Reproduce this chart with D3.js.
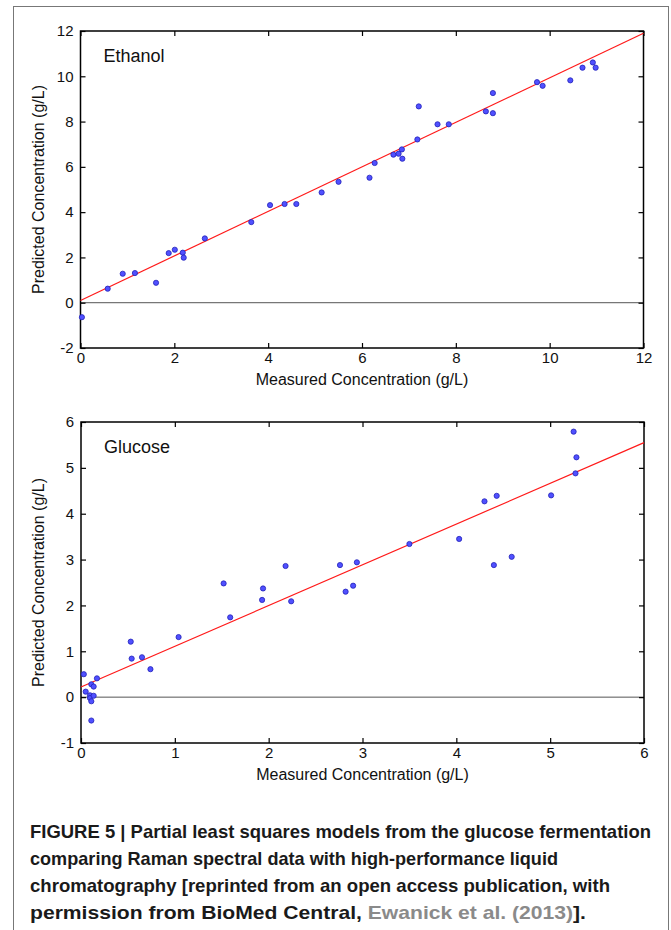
<!DOCTYPE html>
<html>
<head>
<meta charset="utf-8">
<script src="https://cdn.jsdelivr.net/npm/d3@7"></script>
<style>
  body { margin: 0; background: #fff; }
  svg { display: block; }
</style>
</head>
<body>
<svg id="fig" width="671" height="930"></svg>
<script>
// ethanol panel, measured vs predicted (g/L)
var ethanolMeasured = [0.03, 0.58, 0.90, 1.16, 1.61, 1.88, 2.01, 2.18, 2.20, 2.65,
  3.64, 4.04, 4.35, 4.60, 5.14, 5.50, 6.16, 6.27, 6.67, 6.78,
  6.85, 6.86, 7.18, 7.21, 7.61, 7.85, 8.64, 8.79, 8.79, 9.73,
  9.85, 10.44, 10.70, 10.92, 10.98];
var ethanolPredicted = [-0.64, 0.62, 1.28, 1.31, 0.88, 2.19, 2.34, 2.21, 1.99, 2.84,
  3.56, 4.31, 4.36, 4.36, 4.87, 5.34, 5.52, 6.17, 6.54, 6.58,
  6.77, 6.36, 7.21, 8.67, 7.88, 7.88, 8.45, 9.26, 8.37, 9.74,
  9.58, 9.82, 10.38, 10.61, 10.38];
var ethanolFit = [[0, 0.1], [12, 11.9]];
var ethanolXTicks = [0, 2, 4, 6, 8, 10, 12];
var ethanolYTicks = [-2, 0, 2, 4, 6, 8, 10, 12];

// glucose panel
var glucoseMeasured = [0.03, 0.05, 0.096, 0.096, 0.11, 0.11, 0.11, 0.135, 0.135, 0.17,
  0.53, 0.54, 0.65, 0.74, 1.04, 1.52, 1.59, 1.93, 1.94, 2.18,
  2.24, 2.76, 2.82, 2.90, 2.94, 3.50, 4.03, 4.30, 4.40, 4.43,
  4.59, 5.01, 5.25, 5.27, 5.28];
var glucosePredicted = [0.50, 0.12, 0.04, -0.02, 0.28, -0.09, -0.51, 0.23, 0.03, 0.41,
  1.21, 0.84, 0.87, 0.61, 1.31, 2.48, 1.74, 2.12, 2.37, 2.86,
  2.09, 2.88, 2.30, 2.43, 2.94, 3.34, 3.45, 4.27, 2.88, 4.39,
  3.06, 4.40, 5.79, 4.88, 5.23];
var glucoseFit = [[0, 0.22], [6, 5.55]];
var glucoseXTicks = [0, 1, 2, 3, 4, 5, 6];
var glucoseYTicks = [-1, 0, 1, 2, 3, 4, 5, 6];

var xLabel = "Measured Concentration (g/L)";
var yLabel = "Predicted Concentration (g/L)";

var captionLines = [
  [["FIGURE 5 | Partial least squares models from the glucose fermentation", "#1a1a1a"]],
  [["comparing Raman spectral data with high-performance liquid", "#1a1a1a"]],
  [["chromatography [reprinted from an open access publication, with", "#1a1a1a"]],
  [["permission from BioMed Central, ", "#1a1a1a"], ["Ewanick et al. (2013)", "#8a8a8a"], ["].", "#1a1a1a"]]
];
var captionWidths = [621, 528, 580, 556];

var svg = d3.select("#fig");
var tickFont = "'Liberation Sans', Arial, Helvetica, sans-serif";
var plainNum = function(d) { return String(d); }; // hyphen minus like the original

// page frame round the figure
svg.append("rect")
  .attr("x", 13.5).attr("y", 6.5)
  .attr("width", 655).attr("height", 1000)
  .attr("fill", "none")
  .attr("stroke", "#777")
  .attr("stroke-width", 1);

function drawPanel(box, name, xs, ys, fit, xTicks, yTicks) {
  var x = d3.scaleLinear()
    .domain([xTicks[0], xTicks[xTicks.length - 1]])
    .range([box.left, box.right]);
  var y = d3.scaleLinear()
    .domain([yTicks[0], yTicks[yTicks.length - 1]])
    .range([box.bottom, box.top]);

  var g = svg.append("g");

  // zero reference line
  g.append("line")
    .attr("x1", box.left).attr("x2", box.right)
    .attr("y1", y(0)).attr("y2", y(0))
    .attr("stroke", "#555")
    .attr("stroke-width", 1);

  // inward ticks on all four sides
  var bottom = g.append("g")
    .attr("transform", "translate(0," + box.bottom + ")")
    .call(d3.axisBottom(x).tickValues(xTicks).tickFormat(plainNum)
      .tickSizeInner(-5).tickSizeOuter(0).tickPadding(4));
  var left = g.append("g")
    .attr("transform", "translate(" + box.left + ",0)")
    .call(d3.axisLeft(y).tickValues(yTicks).tickFormat(plainNum)
      .tickSizeInner(-5).tickSizeOuter(0).tickPadding(7));
  var top = g.append("g")
    .attr("transform", "translate(0," + box.top + ")")
    .call(d3.axisTop(x).tickValues(xTicks).tickSizeInner(-5).tickSizeOuter(0).tickFormat(""));
  var right = g.append("g")
    .attr("transform", "translate(" + box.right + ",0)")
    .call(d3.axisRight(y).tickValues(yTicks).tickSizeInner(-5).tickSizeOuter(0).tickFormat(""));

  [bottom, left, top, right].forEach(function(a) {
    a.select(".domain").remove();
    a.selectAll("line").attr("stroke", "#000").attr("stroke-width", 1.2);
    a.selectAll("text")
      .attr("fill", "#111")
      .style("font-family", tickFont)
      .style("font-size", "15px");
  });

  // axes box
  g.append("rect")
    .attr("x", box.left).attr("y", box.top)
    .attr("width", box.right - box.left)
    .attr("height", box.bottom - box.top)
    .attr("fill", "none")
    .attr("stroke", "#000")
    .attr("stroke-width", 1.5);

  // regression line
  g.append("line")
    .attr("x1", x(fit[0][0])).attr("y1", y(fit[0][1]))
    .attr("x2", x(fit[1][0])).attr("y2", y(fit[1][1]))
    .attr("stroke", "#ff1a1a")
    .attr("stroke-width", 1.2);

  g.selectAll("circle.pt")
    .data(xs.map(function(v, i) { return [v, ys[i]]; }))
    .enter().append("circle")
    .attr("class", "pt")
    .attr("cx", function(d) { return x(d[0]); })
    .attr("cy", function(d) { return y(d[1]); })
    .attr("r", 2.6)
    .attr("fill", "#5050ff")
    .attr("stroke", "#2222b8")
    .attr("stroke-width", 0.8);

  g.append("text")
    .attr("x", box.left + 23)
    .attr("y", box.top + 31)
    .style("font-family", tickFont)
    .style("font-size", "18px")
    .attr("fill", "#111")
    .text(name);

  g.append("text")
    .attr("x", (box.left + box.right) / 2)
    .attr("y", box.bottom + 37)
    .attr("text-anchor", "middle")
    .style("font-family", tickFont)
    .style("font-size", "16px")
    .attr("fill", "#111")
    .text(xLabel);

  g.append("text")
    .attr("transform", "translate(44," + ((box.top + box.bottom) / 2) + ") rotate(-90)")
    .attr("text-anchor", "middle")
    .style("font-family", tickFont)
    .style("font-size", "16px")
    .attr("fill", "#111")
    .text(yLabel);
}

drawPanel({left: 80.5, right: 643.5, top: 31, bottom: 348}, "Ethanol",
  ethanolMeasured, ethanolPredicted, ethanolFit, ethanolXTicks, ethanolYTicks);
drawPanel({left: 81, right: 644, top: 422, bottom: 743}, "Glucose",
  glucoseMeasured, glucosePredicted, glucoseFit, glucoseXTicks, glucoseYTicks);

// caption, bold, squeezed to the condensed widths of the original
captionLines.forEach(function(parts, i) {
  var t = svg.append("text")
    .attr("x", 30)
    .attr("y", 838 + i * 27)
    .attr("textLength", captionWidths[i])
    .attr("lengthAdjust", "spacingAndGlyphs")
    .style("font-family", "'Liberation Sans', Arial, sans-serif")
    .style("font-weight", "bold")
    .style("font-size", "19px");
  parts.forEach(function(p) {
    t.append("tspan").attr("fill", p[1]).text(p[0]);
  });
});
</script>
</body>
</html>
